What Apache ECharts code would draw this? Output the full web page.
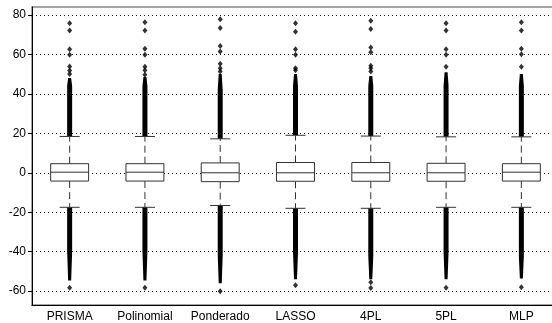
<!DOCTYPE html>
<html>
<head>
<meta charset="utf-8">
<script src="https://cdn.jsdelivr.net/npm/echarts@6/dist/echarts.min.js"></script>
<style>
  html, body { margin: 0; padding: 0; background: #fff; }
  #chart { width: 552px; height: 323px; }
</style>
</head>
<body>
<div id="chart"></div>
<script>
var categories = ['PRISMA', 'Polinomial', 'Ponderado', 'LASSO', '4PL', '5PL', 'MLP'];

// box statistics
var q1 = [-4.2, -4.2, -4.5, -4.3, -4.3, -4.3, -4.2];
var median = [0.3, 0.3, 0, 0, 0, 0, 0.3];
var q3 = [4.6, 4.6, 5.0, 5.2, 5.2, 4.8, 4.6];
var whiskerLow = [-17.5, -17.5, -16.6, -18, -18, -17.5, -17.5];
var whiskerHigh = [18.4, 18.4, 17.2, 19, 18.6, 18.2, 18.2];

// dense outlier columns (too packed to read single points): solid end, thin end
var upperSolid = [44, 44, 42, 44, 44, 44, 44];
var upperThin = [48, 48.5, 50, 50, 49, 51, 50];
var lowerSolid = [-40, -40, -41.4, -40, -42, -40, -42];
var lowerThin = [-54.6, -54.6, -56, -54, -54, -54, -53.6];

// isolated outliers
var outPRISMA = [75.8, 72.1, 62.6, 59.8, 53.8, 51.8, 50.1, -58.3];
var outPolinomial = [76.3, 72.1, 62.9, 59.8, 53.7, 51.9, 49.7, -58.3];
var outPonderado = [77.8, 73.4, 64.3, 61.4, 55.2, 53, 51.3, -60];
var outLASSO = [75.8, 71.5, 62.6, 59.8, 53, 51.9, -57];
var out4PL = [77, 72.9, 63.5, 61.1, 54.2, 53, 51.3, -55.5, -58.4];
var out5PL = [75.8, 72.1, 62.6, 59.8, 53.7, -58.3];
var outMLP = [76.3, 72.1, 62.9, 60.1, 53.7, -58];

var yTicks = [-60, -40, -20, 0, 20, 40, 60, 80];

var outliers = [outPRISMA, outPolinomial, outPonderado, outLASSO, out4PL, out5PL, outMLP];

var boxData = [];
var outData = [];
for (var i = 0; i < categories.length; i++) {
  boxData.push([i, q1[i], median[i], q3[i], whiskerLow[i], whiskerHigh[i],
    upperSolid[i], upperThin[i], lowerSolid[i], lowerThin[i]]);
  for (var j = 0; j < outliers[i].length; j++) {
    outData.push([i, outliers[i][j]]);
  }
}

function renderBox(params, api) {
  var idx = api.value(0);
  var band = api.size([1, 0])[0];
  var hw = band * 0.252;
  var cw = band * 0.133;
  var x = api.coord([idx, 0])[0];
  function yy(k) { return api.coord([idx, api.value(k)])[1]; }
  var yQ1 = yy(1), yMed = yy(2), yQ3 = yy(3), yLo = yy(4), yHi = yy(5);
  var yUS = yy(6), yUT = yy(7), yLS = yy(8), yLT = yy(9);
  var stroke = '#333';
  return {
    type: 'group',
    children: [
      { type: 'polygon', shape: { points: [[x - 2.5, yHi], [x + 2.5, yHi], [x + 2.5, yUS], [x + 1.5, yUT], [x - 1.5, yUT], [x - 2.5, yUS]] },
        style: { fill: '#000' } },
      { type: 'polygon', shape: { points: [[x - 2.5, yLo], [x + 2.5, yLo], [x + 2.5, yLS], [x + 1.5, yLT], [x - 1.5, yLT], [x - 2.5, yLS]] },
        style: { fill: '#000' } },
      { type: 'line', shape: { x1: x, y1: yQ3, x2: x, y2: yHi },
        style: { stroke: stroke, lineWidth: 1, lineDash: [7, 4] } },
      { type: 'line', shape: { x1: x, y1: yQ1, x2: x, y2: yLo },
        style: { stroke: stroke, lineWidth: 1, lineDash: [7, 4] } },
      { type: 'line', shape: { x1: x - cw, y1: yHi, x2: x + cw, y2: yHi },
        style: { stroke: stroke, lineWidth: 1 } },
      { type: 'line', shape: { x1: x - cw, y1: yLo, x2: x + cw, y2: yLo },
        style: { stroke: stroke, lineWidth: 1 } },
      { type: 'rect', shape: { x: x - hw, y: yQ3, width: hw * 2, height: yQ1 - yQ3 },
        style: { fill: '#fff', stroke: stroke, lineWidth: 1 } },
      { type: 'line', shape: { x1: x - hw, y1: yMed, x2: x + hw, y2: yMed },
        style: { stroke: stroke, lineWidth: 1 } }
    ]
  };
}

var chart = echarts.init(document.getElementById('chart'));
chart.setOption({
  animation: false,
  backgroundColor: '#fff',
  textStyle: { fontFamily: 'Liberation Sans, Arial, sans-serif' },
  grid: {
    left: 32, top: 7, width: 527, height: 298,
    outerBoundsMode: 'none',
    containLabel: false,
    show: true, borderColor: '#888', borderWidth: 1.5, backgroundColor: '#fff'
  },
  xAxis: {
    type: 'category',
    data: categories,
    boundaryGap: true,
    axisLine: { onZero: false, lineStyle: { color: '#000', width: 1 } },
    axisTick: { show: false },
    axisLabel: { color: '#000', fontSize: 12, margin: 6, interval: 0 },
    splitLine: { show: false }
  },
  yAxis: {
    type: 'value',
    min: -67,
    max: 84,
    splitNumber: 7,
    axisLine: { show: true, onZero: false, lineStyle: { color: '#000', width: 1 } },
    axisTick: { show: true, length: 4, lineStyle: { color: '#000' }, customValues: yTicks },
    axisLabel: {
      color: '#000', fontSize: 12, margin: 6,
      customValues: yTicks,
      formatter: function (v) { return v % 20 === 0 ? String(v) : ''; }
    },
    splitLine: { show: true, lineStyle: { color: '#222', width: 1, type: [1, 3] } }
  },
  series: [
    {
      type: 'custom',
      renderItem: renderBox,
      data: boxData,
      encode: { x: 0, y: [1, 2, 3, 4, 5] },
      clip: true,
      z: 2
    },
    {
      type: 'scatter',
      data: outData,
      symbol: 'diamond',
      symbolSize: [5, 6],
      itemStyle: { color: '#000' },
      z: 3
    }
  ]
});
</script>
</body>
</html>
